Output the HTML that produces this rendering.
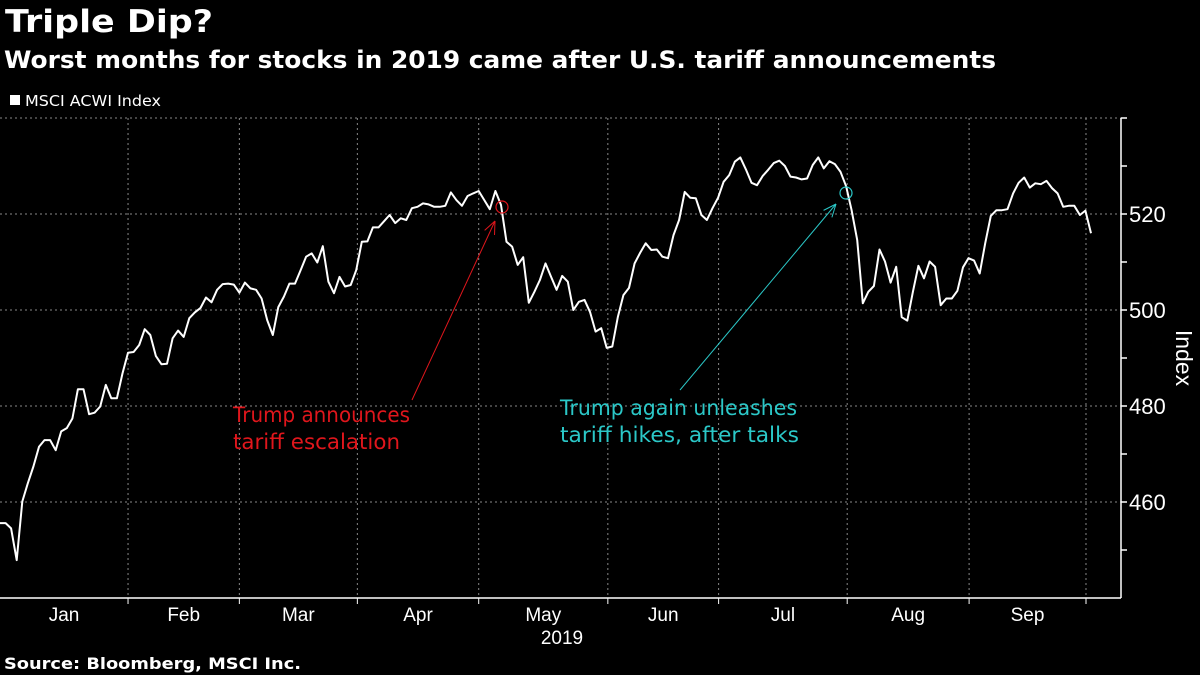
<!DOCTYPE html>
<html><head><meta charset="utf-8"><style>
html,body{margin:0;padding:0;background:#000;width:1200px;height:675px;overflow:hidden;font-family:"Liberation Sans","DejaVu Sans",sans-serif;color:#fff}
svg{position:absolute;left:0;top:0}
</style></head><body>
<svg id="chart" width="1200" height="675" viewBox="0 0 1200 675">
<text x="5" y="32" font-size="31" font-weight="bold" fill="#fff" font-family="DejaVu Sans, sans-serif" textLength="208" lengthAdjust="spacingAndGlyphs">Triple Dip?</text>
<text x="4" y="68" font-size="24" font-weight="bold" fill="#fff" font-family="DejaVu Sans, sans-serif" textLength="992" lengthAdjust="spacingAndGlyphs">Worst months for stocks in 2019 came after U.S. tariff announcements</text>
<rect x="10" y="95" width="10" height="10" fill="#fff"/>
<text x="25" y="106" font-size="15" fill="#fff" font-family="DejaVu Sans, sans-serif" textLength="136" lengthAdjust="spacingAndGlyphs">MSCI ACWI Index</text>
<g id="grid"></g><g id="axes"></g><g id="series"></g><g id="notes"></g>
<text x="4" y="669" font-size="16" font-weight="bold" fill="#fff" font-family="DejaVu Sans, sans-serif" textLength="297" lengthAdjust="spacingAndGlyphs">Source: Bloomberg, MSCI Inc.</text>
</svg>
<script>
const values=[455.6,455.6,454.5,447.9,460.1,463.9,467.4,471.5,472.9,472.9,470.8,474.7,475.4,477.4,483.5,483.5,478.3,478.6,479.9,484.4,481.6,481.6,486.8,491.1,491.25,492.7,496,494.8,490.4,488.7,488.8,494.1,495.7,494.4,498.3,499.5,500.4,502.6,501.6,504.2,505.4,505.5,505.3,503.6,505.7,504.5,504.2,502.4,497.9,494.8,500.6,502.8,505.5,505.5,508.3,511.1,511.8,509.9,513.3,505.9,503.5,506.9,504.9,505.2,508.3,514.2,514.3,517.2,517.2,518.5,519.8,518.1,519.1,
518.75,521.2,521.5,522.2,522.0,521.5,521.5,521.7,524.5,522.9,521.7,523.75,524.3,524.8,522.9,521,524.8,521.9,514.2,513.2,509.4,511,501.5,503.8,506.25,509.7,506.9,504.2,507.1,505.9,500,501.7,502.1,499.6,495.5,496.2,492.1,492.4,498.6,503.1,504.6,509.7,511.9,513.9,512.5,512.6,511.1,510.8,515.6,518.75,524.6,523.4,523.3,519.8,518.75,521.2,523.4,526.7,528.1,530.9,531.8,529.3,526.5,526,527.9,529.2,530.6,531.1,530,527.8,527.6,527.2,
527.4,530.2,531.8,529.5,531,530.4,528.8,525.8,520.8,514.6,501.4,503.8,505,512.6,510.1,505.7,509,498.5,497.8,503.8,509.2,506.6,510.1,509,501,502.4,502.4,504,508.9,510.8,510.3,507.6,513.9,519.6,520.8,520.8,521,524.3,526.5,527.6,525.5,526.4,526.2,526.9,525.4,524.3,521.5,521.7,521.7,519.8,520.7,516];
const monthLabels=["Jan","Feb","Mar","Apr","May","Jun","Jul","Aug","Sep"];
const monthStartIdx=[0,23.5,43.5,64.7,86.5,109.7,129.6,152.7,174.6,195.6];
const yTicks=[460,480,500,520];
const yMinor=[450,470,490,510,530,540];
const NS="http://www.w3.org/2000/svg";
const X0=0,X1=1091,Y_AXIS=1121,PLOT_TOP=118,PLOT_BOT=598;
const xScale=i=>X0+i*(X1-X0)/(values.length-1);
const yScale=v=>214-(v-520)*4.8;
function mk(tag,attrs,parent){const e=document.createElementNS(NS,tag);for(const k in attrs)e.setAttribute(k,attrs[k]);parent.appendChild(e);return e;}
const grid=document.getElementById('grid'),axes=document.getElementById('axes'),series=document.getElementById('series'),notes=document.getElementById('notes');
[460,480,500,520,540].forEach(v=>{
 const l=mk('line',{x1:0,x2:Y_AXIS,y1:yScale(v),y2:yScale(v),stroke:'#888','stroke-width':1,'stroke-dasharray':'2,3'},grid);
 
 
});
monthStartIdx.slice(1).forEach((idx,k)=>{
 const x=xScale(idx-0.5);
 const l=mk('line',{x1:x,x2:x,y1:PLOT_TOP,y2:PLOT_BOT,stroke:'#888','stroke-width':1,'stroke-dasharray':'2,3'},grid);
 
 
 const t=mk('line',{x1:x,x2:x,y1:PLOT_BOT,y2:PLOT_BOT+6,stroke:'#fff','stroke-width':1},axes);
 
 
});
monthLabels.forEach((m,k)=>{
 const a=xScale(monthStartIdx[k]-0.5),b=xScale(monthStartIdx[k+1]-0.5);
 const t=mk('text',{x:(Math.max(a,0)+b)/2,y:621,'font-size':19,fill:'#fff','text-anchor':'middle'},axes);
 t.textContent=m;
 
 
});
const yr=mk('text',{x:562,y:644,'font-size':19,fill:'#fff','text-anchor':'middle'},axes);yr.textContent='2019';


const xa=mk('line',{x1:0,x2:Y_AXIS,y1:PLOT_BOT,y2:PLOT_BOT,stroke:'#fff','stroke-width':1.5},axes);


const ya=mk('line',{x1:Y_AXIS,x2:Y_AXIS,y1:PLOT_TOP,y2:PLOT_BOT,stroke:'#fff','stroke-width':1.5},axes);


yTicks.concat(yMinor).forEach(v=>{
 const t=mk('line',{x1:Y_AXIS,x2:Y_AXIS+6,y1:yScale(v),y2:yScale(v),stroke:'#fff','stroke-width':1.5},axes);
 
 
});
yTicks.forEach(v=>{
 const t=mk('text',{x:1129,y:yScale(v)+8,'font-size':22,fill:'#fff'},axes);t.textContent=v;
 
 
});
const yt=mk('text',{x:1176,y:358,'font-size':23,fill:'#fff','text-anchor':'middle',transform:'rotate(90 1176 358)'},axes);yt.textContent='Index';


const pts=values.map((v,i)=>xScale(i).toFixed(1)+','+yScale(v).toFixed(1)).join(' ');
const pl=mk('polyline',{points:pts,fill:'none',stroke:'#fff','stroke-width':2,'stroke-linejoin':'round'},series);


function arrow(x1,y1,x2,y2,c,name){
 const g=mk('g',{},notes);
 
 
 mk('line',{x1,y1,x2,y2,stroke:c,'stroke-width':1},g);
 const ang=Math.atan2(y2-y1,x2-x1),L=14;
 [0.4,-0.4].forEach(d=>mk('line',{x1:x2,y1:y2,x2:x2-L*Math.cos(ang+d),y2:y2-L*Math.sin(ang+d),stroke:c,'stroke-width':1},g));
}
const c1=mk('circle',{cx:502,cy:207,r:6,fill:'none',stroke:'#e0161c','stroke-width':1.2},notes);


arrow(412,400,495,221,'#e0161c','red-arrow');
const c2=mk('circle',{cx:846,cy:193,r:6,fill:'none',stroke:'#2bc8c8','stroke-width':1.2},notes);


arrow(680,390,836,204,'#2bc8c8','cyan-arrow');
function label(x,y,lines,lens,c,name){
 const t=mk('text',{x,y,'font-size':21,fill:c,'font-family':'DejaVu Sans, sans-serif'},notes);
 
 
 lines.forEach((s,i)=>{const ts=mk('tspan',{x,dy:i?27:0,textLength:lens[i],lengthAdjust:'spacingAndGlyphs'},t);ts.textContent=s;});
}
label(233,422,['Trump announces','tariff escalation'],[177,167],'#e0161c','red-annotation');
label(560,415,['Trump again unleashes','tariff hikes, after talks'],[237,239],'#2bc8c8','cyan-annotation');
</script>
</body></html>
